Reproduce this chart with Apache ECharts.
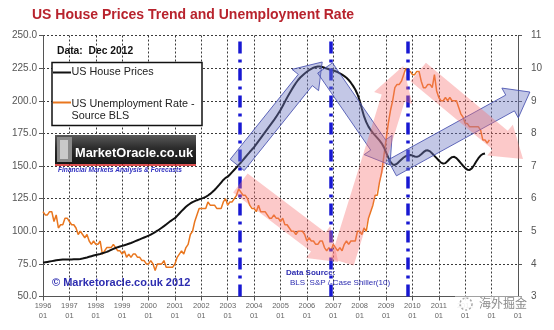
<!DOCTYPE html>
<html>
<head>
<meta charset="utf-8">
<script src="https://cdn.jsdelivr.net/npm/echarts@6/dist/echarts.min.js"></script>
<style>
html,body{margin:0;padding:0;background:#fff}
#chart{width:554px;height:330px}
</style>
</head>
<body>
<div id="chart"></div>
<script>
// Monthly series start in January of this year
const startYear = 1996;

// Year ticks along the bottom axis (each shown with month "01")
const yearTicks = [1996,1997,1998,1999,2000,2001,2002,2003,2004,2005,2006,2007,2008,2009,2010,2011,2012,2013,2014];

// Case-Shiller 10-city house price index, monthly, Jan 1996 - Oct 2012
const housePrices = [
  75.9,76.2,76.5,76.8,77.1,77.4,77.7,77.9,78.1,78.3,78.4,78.4,
  78.4,78.4,78.5,78.5,78.6,78.8,79.1,79.5,79.9,80.4,80.9,81.4,
  81.8,82.2,82.6,83.1,83.6,84.2,84.9,85.7,86.5,87.2,87.8,88.3,
  88.8,89.3,89.8,90.4,91.0,91.7,92.4,93.1,93.8,94.5,95.2,95.9,
  96.6,97.5,98.4,99.4,100.4,101.5,102.7,103.9,105.2,106.5,107.8,109.0,
  110.0,111.8,113.6,115.4,117.1,118.7,120.1,121.3,122.3,123.1,123.8,124.4,
  125.0,125.6,126.4,127.4,128.6,130.0,131.6,133.4,135.3,137.3,139.3,140.9,
  141.8,143.5,145.3,147.1,148.9,150.8,152.7,154.7,156.7,158.7,160.7,162.6,
  164.4,166.7,169.0,171.3,173.6,175.9,178.2,180.5,182.8,185.1,187.6,190.2,
  192.8,196.0,199.2,202.4,205.4,208.3,211.0,213.6,215.9,217.8,219.4,220.9,
  222.2,223.4,224.4,225.3,225.9,226.2,226.2,225.9,225.3,224.7,224.1,223.6,
  223.2,222.6,221.9,221.0,220.0,218.9,217.6,215.9,213.8,211.4,208.6,205.0,
  200.2,193.8,188.0,183.6,180.2,177.6,175.4,173.5,171.6,169.6,167.4,164.4,
  160.4,156.6,153.2,151.2,150.8,151.8,153.4,155.0,156.5,157.6,158.2,158.4,
  158.0,157.3,157.0,157.6,159.0,160.6,161.8,162.0,161.2,159.6,157.8,156.0,
  154.2,152.6,151.8,152.2,153.8,155.6,156.8,157.0,156.0,154.2,152.2,150.2,
  148.4,147.2,147.0,148.2,150.6,153.4,156.0,158.0,159.2,159.6
];

// US unemployment rate (%), BLS, monthly, Jan 1996 - Dec 2012
const unemployment = [
  5.6,5.5,5.5,5.6,5.6,5.3,5.5,5.1,5.2,5.2,5.4,5.4,
  5.3,5.2,5.2,5.1,4.9,5.0,4.9,4.8,4.9,4.7,4.6,4.7,
  4.6,4.6,4.7,4.3,4.4,4.5,4.5,4.5,4.6,4.5,4.4,4.4,
  4.3,4.4,4.2,4.3,4.2,4.3,4.3,4.2,4.2,4.1,4.1,4.0,
  4.0,4.1,4.0,3.8,4.0,4.0,4.0,4.1,3.9,3.9,3.9,3.9,
  4.0,4.2,4.3,4.4,4.3,4.5,4.6,4.9,5.0,5.3,5.5,5.7,
  5.7,5.7,5.7,5.9,5.8,5.8,5.8,5.7,5.7,5.7,5.9,6.0,
  5.8,5.9,5.9,6.0,6.1,6.3,6.2,6.1,6.1,6.0,5.8,5.7,
  5.7,5.6,5.8,5.6,5.6,5.6,5.5,5.4,5.4,5.5,5.4,5.4,
  5.3,5.4,5.2,5.2,5.1,5.0,5.0,4.9,5.0,5.0,5.0,4.9,
  4.7,4.8,4.7,4.7,4.6,4.6,4.7,4.7,4.5,4.4,4.5,4.4,
  4.6,4.5,4.4,4.5,4.4,4.6,4.7,4.6,4.7,4.7,4.7,5.0,
  5.0,4.9,5.1,5.0,5.4,5.6,5.8,6.1,6.1,6.5,6.8,7.3,
  7.8,8.3,8.7,9.0,9.4,9.5,9.5,9.6,9.8,10.0,9.9,9.9,
  9.8,9.8,9.9,9.9,9.6,9.4,9.4,9.5,9.5,9.4,9.8,9.3,
  9.1,9.0,9.0,9.1,9.0,9.1,9.0,9.0,9.0,8.8,8.6,8.5,
  8.3,8.3,8.2,8.2,8.2,8.2,8.2,8.1,7.8,7.8,7.7,7.8
];

// Turning points marked with vertical dash-dot lines (decimal years)
const turningPoints = [2003 + 5.5/12, 2006 + 11/12, 2009 + 10/12];

// Trend arrows in chart units: [year, index value] for tail, head base and tip
const trendArrows = [
  { kind: 'blue', tail: [2003.36, 150.8], base: [2005.94, 215.9], tip: [2006.58, 229.7] },
  { kind: 'blue', tail: [2006.69, 225.1], base: [2008.70, 166.1], tip: [2009.15, 150.8] },
  { kind: 'blue', tail: [2009.23, 148.5], base: [2013.70, 198.3], tip: [2014.45, 206.7] },
  { kind: 'pink', tail: [2003.48, 137.0], base: [2006.43, 91.8],  tip: [2007.19, 76.4] },
  { kind: 'pink', tail: [2007.34, 76.4],  base: [2009.27, 202.1], tip: [2009.65, 226.6] },
  { kind: 'pink', tail: [2010.22, 222.0], base: [2013.32, 169.9], tip: [2014.19, 155.4] }
];

const monthToYear = i => startYear + i / 12;
const font = 'Liberation Sans, Arial, sans-serif';

const chart = echarts.init(document.getElementById('chart'), null, { renderer: 'canvas' });

const gridLine = { show: true, lineStyle: { color: '#3a3a3a', width: 1, type: [2, 2] } };

const option = {
  animation: false,
  backgroundColor: '#fff',
  grid: { left: 43, right: 36, top: 35.5, bottom: 33.5, containLabel: false },
  xAxis: {
    type: 'value',
    min: yearTicks[0],
    max: yearTicks[yearTicks.length - 1],
    interval: 1,
    axisLine: { show: true, onZero: false, lineStyle: { color: '#555', width: 1 } },
    axisTick: { show: true, length: 4, lineStyle: { color: '#555' } },
    axisLabel: {
      fontFamily: font, fontSize: 7.5, color: '#666', lineHeight: 9.5, margin: 5,
      formatter: v => yearTicks.includes(v) ? v + '\n01' : ''
    },
    splitLine: gridLine
  },
  yAxis: [
    {
      type: 'value', min: 50, max: 250, interval: 25, position: 'left',
      axisLine: { show: true, lineStyle: { color: '#555', width: 1 } },
      axisTick: { show: true, length: 4, lineStyle: { color: '#555' } },
      axisLabel: { fontFamily: font, fontSize: 10, color: '#555', margin: 6, formatter: v => v.toFixed(1) },
      splitLine: gridLine
    },
    {
      type: 'value', min: 3, max: 11, interval: 1, position: 'right',
      axisLine: { show: true, lineStyle: { color: '#555', width: 1 } },
      axisTick: { show: true, length: 4, lineStyle: { color: '#555' } },
      axisLabel: { fontFamily: font, fontSize: 10, color: '#555', margin: 13 },
      splitLine: { show: false }
    }
  ],
  series: [
    {
      name: 'US Unemployment Rate - Source BLS',
      type: 'line', yAxisIndex: 1, symbol: 'none', z: 3,
      lineStyle: { color: '#e9761e', width: 1.5 },
      data: unemployment.map((v, i) => [monthToYear(i), v])
    },
    {
      name: 'US House Prices',
      type: 'line', yAxisIndex: 0, symbol: 'none', z: 4,
      lineStyle: { color: '#111', width: 2 },
      data: housePrices.map((v, i) => [monthToYear(i), v]),
      markLine: {
        silent: true, symbol: 'none', label: { show: false },
        lineStyle: { color: '#1818d2', width: 3.5, type: [12, 6, 3, 6] },
        data: turningPoints.map(x => ({ xAxis: x }))
      }
    }
  ]
};
chart.setOption(option);

// Build translucent trend arrows in pixel space from their chart coordinates
function arrowPolygon(a) {
  const p0 = chart.convertToPixel({ gridIndex: 0 }, a.tail);
  const p1 = chart.convertToPixel({ gridIndex: 0 }, a.base);
  const p2 = chart.convertToPixel({ gridIndex: 0 }, a.tip);
  const dx = p1[0] - p0[0], dy = p1[1] - p0[1];
  const len = Math.hypot(dx, dy);
  const nx = -dy / len, ny = dx / len;
  const w = a.kind === 'blue' ? 9 : 12;
  const h = a.kind === 'blue' ? 17 : 20;
  return [
    [p0[0] + nx * w, p0[1] + ny * w],
    [p1[0] + nx * w, p1[1] + ny * w],
    [p1[0] + nx * h, p1[1] + ny * h],
    p2,
    [p1[0] - nx * h, p1[1] - ny * h],
    [p1[0] - nx * w, p1[1] - ny * w],
    [p0[0] - nx * w, p0[1] - ny * w]
  ];
}

const arrowShapes = trendArrows.map(a => ({
  type: 'polygon', z: 50, silent: true,
  shape: { points: arrowPolygon(a) },
  style: a.kind === 'blue'
    ? { fill: 'rgba(112,122,196,0.42)', stroke: 'rgba(70,80,175,0.85)', lineWidth: 1 }
    : { fill: 'rgba(246,112,112,0.38)', stroke: 'none' }
}));

const texts = [
  // Title
  { type: 'text', left: 32, top: 8.5, z: 100,
    style: { text: 'US House Prices Trend and Unemployment Rate', fill: '#b8232d',
             font: 'bold 14px ' + font } },
  // Data date
  { type: 'text', left: 57, top: 46.5, z: 100,
    style: { text: 'Data:  Dec 2012', fill: '#111', font: 'bold 10.3px ' + font } },
  // Legend box
  { type: 'rect', z: 90, shape: { x: 52, y: 62.5, width: 150, height: 63 },
    style: { fill: '#fff', stroke: '#111', lineWidth: 1.5 } },
  { type: 'line', z: 100, shape: { x1: 53, y1: 72.5, x2: 71, y2: 72.5 },
    style: { stroke: '#111', lineWidth: 2 } },
  { type: 'text', left: 71.5, top: 66.5, z: 100,
    style: { text: 'US House Prices', fill: '#222', font: '10.8px ' + font } },
  { type: 'line', z: 100, shape: { x1: 53, y1: 102.5, x2: 71, y2: 102.5 },
    style: { stroke: '#e9761e', lineWidth: 2 } },
  { type: 'text', left: 71.5, top: 97.5, z: 100,
    style: { text: 'US Unemployment Rate -\nSource BLS', fill: '#222', font: '10.8px ' + font, lineHeight: 12.5 } },
  // Publisher banner
  { type: 'rect', z: 90, shape: { x: 55, y: 135, width: 141, height: 29 },
    style: { fill: new echarts.graphic.LinearGradient(0, 0, 0, 1, [
      { offset: 0, color: '#5a5a5a' }, { offset: 0.45, color: '#2c2c2c' }, { offset: 1, color: '#151515' }]) } },
  { type: 'rect', z: 95, shape: { x: 57, y: 137, width: 15, height: 25 },
    style: { fill: '#8a8a8a' } },
  { type: 'rect', z: 96, shape: { x: 60, y: 140, width: 8, height: 19 },
    style: { fill: '#c9c9c9' } },
  { type: 'line', z: 95, shape: { x1: 55, y1: 165, x2: 196, y2: 165 },
    style: { stroke: '#d01818', lineWidth: 1.5 } },
  { type: 'text', left: 75, top: 147, z: 100,
    style: { text: 'MarketOracle.co.uk', fill: '#fff', font: 'bold 12.8px ' + font } },
  { type: 'text', left: 58, top: 166.5, z: 100,
    style: { text: 'Financial Markets Analysis & Forecasts', fill: '#3030c0', font: 'italic bold 6.6px ' + font } },
  // Copyright
  { type: 'text', left: 52, top: 277, z: 100,
    style: { text: '© Marketoracle.co.uk 2012', fill: '#2d2db0', font: 'bold 11px ' + font } },
  // Data source note
  { type: 'text', left: 286, top: 269, z: 100,
    style: { text: 'Data Source:', fill: '#2d2db0', font: 'bold 8px ' + font } },
  { type: 'text', left: 290, top: 279, z: 100,
    style: { text: 'BLS  S&P /-Case Shiller(10)', fill: '#2d2db0', font: '8px ' + font } },
  // Watermark over the last axis labels
  { type: 'rect', z: 110, shape: { x: 455, y: 296.5, width: 72, height: 13 },
    style: { fill: 'rgba(255,255,255,0.9)' } },
  { type: 'circle', z: 111, shape: { cx: 466, cy: 304, r: 6 },
    style: { fill: 'none', stroke: '#aaa', lineWidth: 1.5, lineDash: [2, 2] } },
  { type: 'text', left: 479, top: 297, z: 111,
    style: { text: '海外掘金', fill: '#8a8a8a', font: '12px Noto Sans CJK SC' } }
];

chart.setOption({ graphic: arrowShapes.concat(texts) });
</script>
</body>
</html>
